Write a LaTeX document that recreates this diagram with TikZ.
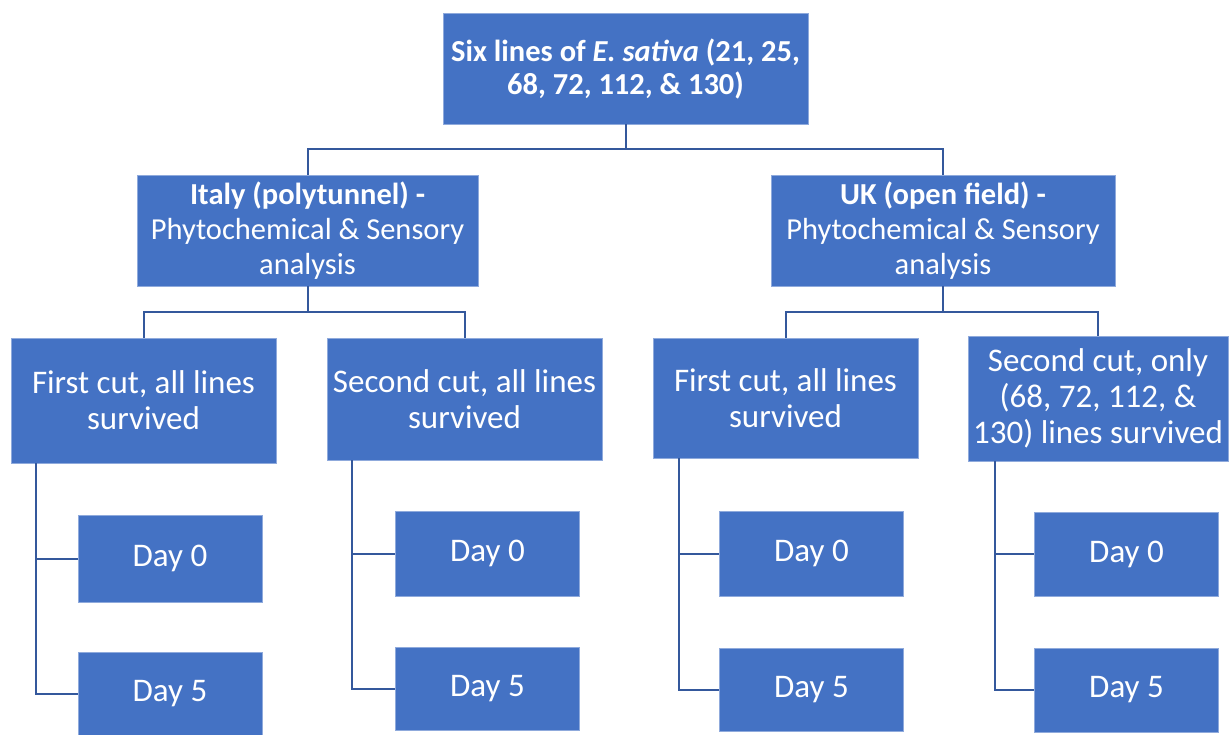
\documentclass[tikz,border=0pt]{standalone}
\usepackage{fontspec}
\setmainfont{Carlito}
\definecolor{boxfill}{RGB}{68,114,196}
\definecolor{boxline}{RGB}{143,170,220}
\definecolor{conncol}{RGB}{52,88,156}
\begin{document}
\begin{tikzpicture}[x=1pt,y=-1pt,
  box/.style={fill=boxfill,draw=boxline,line width=0.8pt,text=white,align=center,inner sep=0pt,
    font=\fontsize{33}{36}\selectfont},
  topbox/.style={box,font=\fontsize{30.5}{35}\selectfont},
  conn/.style={draw=conncol,line width=2pt}]
\useasboundingbox (0,0) rectangle (1230,734);
\node[topbox,minimum width=365,minimum height=111,font=\fontsize{30.5}{33}\selectfont] (root) at (625.5,68.5)
  {\textbf{Six lines of \textit{E. sativa} (21, 25,}\\\textbf{68, 72, 112, \& 130)}};
\node[topbox,minimum width=341,minimum height=111] (italy) at (307.5,230.5)
  {\textbf{Italy (polytunnel) -}\\Phytochemical \& Sensory\\analysis};
\node[topbox,minimum width=344,minimum height=111] (uk) at (943,230.5)
  {\textbf{UK (open field) -}\\Phytochemical \& Sensory\\analysis};
\node[box,minimum width=265,minimum height=125] (c1) at (143.5,400.5) {First cut, all lines\\survived};
\node[box,minimum width=275,minimum height=122] (c2) at (464.5,399) {Second cut, all lines\\survived};
\node[box,minimum width=265,minimum height=120] (c3) at (785.5,398) {First cut, all lines\\survived};
\node[box,minimum width=260,minimum height=125] (c4) at (1098,398.5) {Second cut, only\\(68, 72, 112, \&\\130) lines survived};
\node[box,minimum width=184,minimum height=87] (d10) at (170,558.5) {Day 0};
\node[box,minimum width=184,minimum height=84] (d15) at (170,694) {Day 5};
\node[box,minimum width=184,minimum height=85] (d20) at (487.5,553.5) {Day 0};
\node[box,minimum width=184,minimum height=83] (d25) at (487.5,688.5) {Day 5};
\node[box,minimum width=184,minimum height=85] (d30) at (811.5,553.5) {Day 0};
\node[box,minimum width=184,minimum height=83] (d35) at (811.5,689.5) {Day 5};
\node[box,minimum width=184,minimum height=84] (d40) at (1126.5,554) {Day 0};
\node[box,minimum width=184,minimum height=84] (d45) at (1126.5,690) {Day 5};
% level 1
\draw[conn] (root.south) -- ++(0,25) -| (italy.north);
\draw[conn] (root.south) -- ++(0,25) -| (uk.north);
% level 2
\draw[conn] (italy.south) -- ++(0,26) -| (c1.north);
\draw[conn] (italy.south) -- ++(0,26) -| (c2.north);
\draw[conn] (uk.south) -- ++(0,26) -| (c3.north);
\draw[conn] (uk.south) -- ++(0,26) -| (c4.north);
% level 3
\draw[conn] ([xshift=25]c1.south west) |- (d10.west);
\draw[conn] ([xshift=25]c1.south west) |- (d15.west);
\draw[conn] ([xshift=25]c2.south west) |- (d20.west);
\draw[conn] ([xshift=25]c2.south west) |- (d25.west);
\draw[conn] ([xshift=26]c3.south west) |- (d30.west);
\draw[conn] ([xshift=26]c3.south west) |- (d35.west);
\draw[conn] ([xshift=27]c4.south west) |- (d40.west);
\draw[conn] ([xshift=27]c4.south west) |- (d45.west);
\end{tikzpicture}
\end{document}
